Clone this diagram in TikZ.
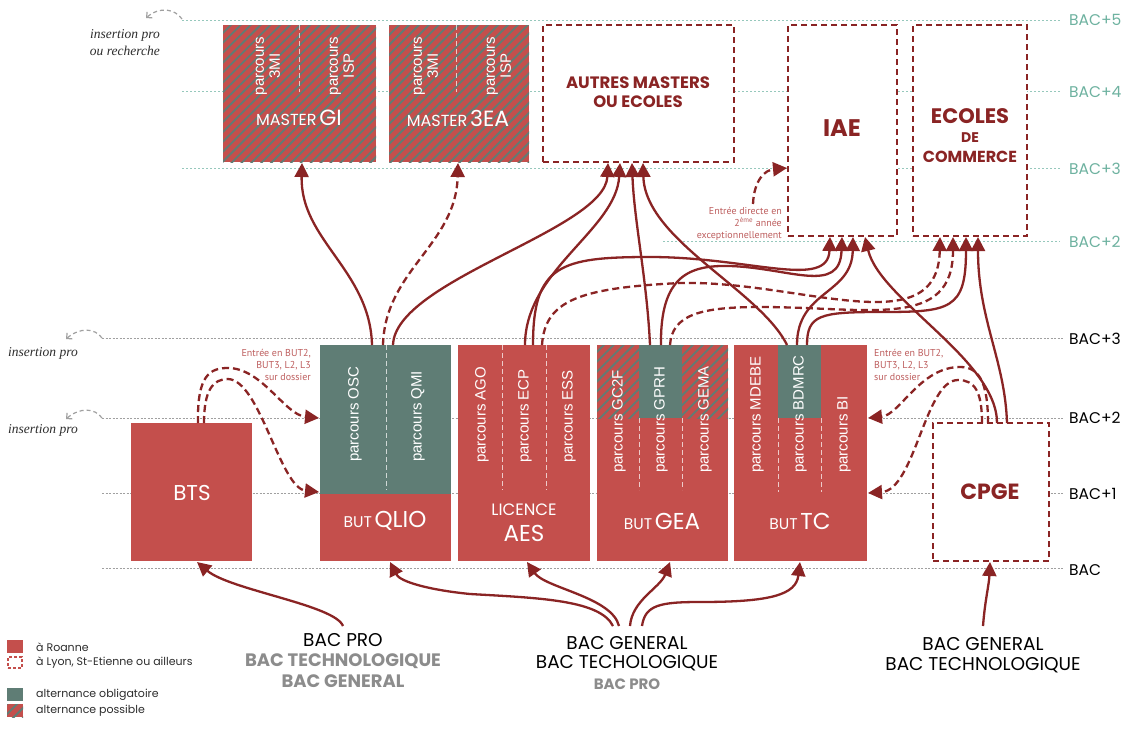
\documentclass[tikz,border=0pt]{standalone}
\usepackage{fontspec}
\newfontfamily\pop{Poppins}
\newfontfamily\lib{Liberation Sans}
\newfontfamily\pts{PT Sans}
\newfontfamily\lser{Liberation Serif}
\usetikzlibrary{arrows.meta,patterns.meta}
\definecolor{boxred}{RGB}{196,79,76}
\definecolor{tealc}{RGB}{95,125,117}
\definecolor{darkred}{RGB}{138,36,36}
\definecolor{tline}{RGB}{150,200,188}
\definecolor{ttxt}{RGB}{110,178,160}
\definecolor{gline}{RGB}{160,160,160}
\definecolor{rosy}{RGB}{190,95,95}
\definecolor{dgray}{RGB}{45,45,45}
\newcommand{\myfs}[1]{\fontsize{#1}{#1}\selectfont}
\tikzset{
 box/.style={draw=none, inner sep=0pt, outer sep=0pt, anchor=north west},
 redbox/.style={box, fill=boxred},
 tealbox/.style={box, fill=tealc},
 hatchbox/.style={box, fill=boxred, postaction={pattern={Lines[angle=45,distance=7pt,line width=1.8pt]}, pattern color=tealc}},
 dashbox/.style={box, fill=white, draw=darkred, line width=1.8pt, dash pattern=on 6pt off 4pt},
 divider/.style={draw=white, opacity=.7, line width=1pt, dash pattern=on 5pt off 3pt},
 upline/.style={draw=tline, line width=1pt, dash pattern=on 2pt off 2pt},
 lowline/.style={draw=gline, line width=1pt, dash pattern=on 2pt off 1.5pt},
 arr/.style={draw=darkred, line width=2.3pt, -{Triangle[length=14pt,width=14pt]}},
 darr/.style={arr, dash pattern=on 7pt off 4pt},
 insarr/.style={draw=gline, line width=1.2pt, dash pattern=on 4pt off 3pt, -{Straight Barb[length=4pt,width=8pt]}},
 parc/.style={font=\lib\myfs{15}, text=white, rotate=90, anchor=west, inner sep=0pt},
 parc2/.style={font=\lib\fontsize{15}{16}\selectfont, text=white, rotate=90, align=center, inner sep=0pt},
 wt/.style={text=white, inner sep=0pt, font=\pop},
 rt/.style={text=darkred, inner sep=0pt, font=\pop\bfseries},
 lvl/.style={font=\pop\myfs{15.5}, anchor=west, inner sep=0pt},
 ins/.style={font=\lser\itshape\fontsize{13.5}{17}\selectfont, text=dgray, inner sep=0pt},
 small/.style={font=\pts\fontsize{10}{12}\selectfont, text=rosy, inner sep=0pt},
 btxt/.style={font=\pop\myfs{18.5}, text=black, inner sep=0pt},
 htxt/.style={font=\pop\bfseries\myfs{18}, text=black!45, inner sep=0pt},
 legt/.style={font=\pop\myfs{11}, text=dgray, anchor=west, inner sep=0pt},
}
\begin{document}
\begin{tikzpicture}[x=1pt,y=-1pt]
\useasboundingbox[fill=white] (0,0) rectangle (1129,731);
% level lines
\draw[upline] (182,20) -- (1060,20);
\draw[upline] (182,91) -- (1060,91);
\draw[upline] (182,168) -- (1060,168);
\draw[upline] (663,241) -- (1060,241);
\draw[lowline] (102,338) -- (1063,338);
\draw[lowline] (102,418) -- (1063,418);
\draw[lowline] (102,493) -- (1063,493);
\draw[lowline] (102,568) -- (1063,568);
\node[lvl, text=ttxt] (l5) at (1069,20) {BAC+5};
\node[lvl, text=ttxt] (l4) at (1069,92) {BAC+4};
\node[lvl, text=ttxt] (l3u) at (1069,169) {BAC+3};
\node[lvl, text=ttxt] (l2u) at (1069,242) {BAC+2};
\node[lvl, text=black] (l3) at (1069,339) {BAC+3};
\node[lvl, text=black] (l2) at (1069,418) {BAC+2};
\node[lvl, text=black] (l1) at (1069,494) {BAC+1};
\node[lvl, text=black] (l0) at (1069,570) {BAC};
% insertion pro
\coordinate (ins0s) at (182,19); \coordinate (ins0e) at (146,18);
\coordinate (ins1s) at (102,338); \coordinate (ins1e) at (66,339);
\coordinate (ins2s) at (102,418); \coordinate (ins2e) at (66,419);
\draw[insarr] (ins0s) .. controls (175,9) and (160,6) .. (ins0e);
\draw[insarr] (ins1s) .. controls (95,328) and (80,327) .. (ins1e);
\draw[insarr] (ins2s) .. controls (95,408) and (80,407) .. (ins2e);
\node[ins, anchor=east, align=right] (ip0) at (160,43) {insertion pro\\ou recherche};
\node[ins, anchor=west] (ip1) at (8,353) {insertion pro};
\node[ins, anchor=west] (ip2) at (8,430) {insertion pro};
% upper boxes
\node[hatchbox, minimum width=153, minimum height=137] (mgi) at (223,25) {};
\node[hatchbox, minimum width=140, minimum height=137] (m3ea) at (389,25) {};
\node[dashbox, minimum width=191, minimum height=137] (autres) at (543,25) {};
\node[dashbox, minimum width=109, minimum height=211] (iae) at (788,25) {};
\node[dashbox, minimum width=114, minimum height=211] (ecoles) at (913,25) {};
\draw[divider] (299,25) -- (299,92);
\draw[divider] (456,25) -- (456,92);
\node[parc2] (p3mi1) at (268,66) {parcours\\3MI};
\node[parc2] (pisp1) at (342,66) {parcours\\ISP};
\node[parc2] (p3mi2) at (426,66) {parcours\\3MI};
\node[parc2] (pisp2) at (499,66) {parcours\\ISP};
\node[wt] (tmgi) at (299,118) {{\myfs{16}MASTER} {\myfs{22}GI}};
\node[wt] (tm3ea) at (458,118) {{\myfs{16}MASTER} {\myfs{22}3EA}};
\node[rt, align=center, font=\pop\bfseries\fontsize{16.5}{19.5}\selectfont] (tautres) at (638,92) {AUTRES MASTERS\\OU ECOLES};
\node[rt, font=\pop\bfseries\myfs{24}] (tiae) at (842,128) {IAE};
\node[rt, font=\pop\bfseries\myfs{21}] (tec1) at (970,116) {ECOLES};
\node[rt, font=\pop\bfseries\myfs{14}] (tec2) at (970,138) {DE};
\node[rt, font=\pop\bfseries\myfs{16}] (tec3) at (970,157) {COMMERCE};
% lower boxes
\node[redbox, minimum width=121, minimum height=138] (bts) at (131,423) {};
\node[tealbox, minimum width=131, minimum height=149] (qliop) at (320,345) {};
\node[redbox, minimum width=131, minimum height=67] (qlio) at (320,494) {};
\node[redbox, minimum width=132, minimum height=216] (aes) at (458,345) {};
\node[redbox, minimum width=131, minimum height=216] (gea) at (597,345) {};
\node[hatchbox, minimum width=42, minimum height=73] (gc2f) at (597,345) {};
\node[tealbox, minimum width=43, minimum height=73] (gprh) at (639,345) {};
\node[hatchbox, minimum width=46, minimum height=73] (gema) at (682,345) {};
\node[redbox, minimum width=133, minimum height=216] (tc) at (734,345) {};
\node[tealbox, minimum width=43, minimum height=73] (bdmrc) at (778,345) {};
\node[dashbox, minimum width=116, minimum height=138] (cpge) at (933,423) {};
\draw[divider] (386,345) -- (386,490);
\draw[divider] (502,345) -- (502,490);
\draw[divider] (546,345) -- (546,490);
\draw[divider] (639,418) -- (639,490);
\draw[divider] (682,418) -- (682,490);
\draw[divider] (778,418) -- (778,492);
\draw[divider] (821,418) -- (821,492);
\node[parc] (posc) at (355,462) {parcours OSC};
\node[parc] (pqmi) at (418,462) {parcours QMI};
\node[parc] (pago) at (482,463) {parcours AGO};
\node[parc] (pecp) at (525,463) {parcours ECP};
\node[parc] (pess) at (569,463) {parcours ESS};
\node[parc] (pgc2f) at (619,473) {parcours GC2F};
\node[parc] (pgprh) at (661,473) {parcours GPRH};
\node[parc] (pgema) at (705,473) {parcours GEMA};
\node[parc] (pmdebe) at (757,473) {parcours MDEBE};
\node[parc] (pbdmrc) at (800,473) {parcours BDMRC};
\node[parc] (pbi) at (844,473) {parcours BI};
\node[wt, font=\pop\myfs{21.5}] (tbts) at (192,493) {BTS};
\node[wt] (tqlio) at (385,521) {{\myfs{15.5}BUT} {\myfs{23}QLIO}};
\node[wt, font=\pop\myfs{16.5}] (taes1) at (524,510) {LICENCE};
\node[wt, font=\pop\myfs{23}] (taes2) at (524,533) {AES};
\node[wt] (tgea) at (662,521) {{\myfs{15.5}BUT} {\myfs{23}GEA}};
\node[wt] (ttc) at (800,521) {{\myfs{15.5}BUT} {\myfs{23}TC}};
\node[rt, font=\pop\bfseries\myfs{22}] (tcpge) at (990,492) {CPGE};
% side labels
\node[small, align=right, anchor=east] (lbl1) at (311,365) {Entrée en BUT2,\\BUT3, L2, L3\\sur dossier};
\node[small, align=left, anchor=west] (lbl2) at (874,365) {Entrée en BUT2,\\BUT3, L2, L3\\sur dossier};
\node[small, align=right, anchor=east] (lbl3) at (782,224) {Entrée directe en\\2\textsuperscript{ème} année\\exceptionnellement};
% ports
\coordinate (mgi-in) at (302,163); \coordinate (m3ea-in) at (458,163);
\coordinate (au1) at (608,163); \coordinate (au2) at (620,163);
\coordinate (au3) at (632,163); \coordinate (au4) at (643,163);
\coordinate (iae1) at (830,237); \coordinate (iae2) at (842,237);
\coordinate (iae3) at (853,237); \coordinate (iae4) at (865,237);
\coordinate (ec1) at (940,237); \coordinate (ec2) at (953,237);
\coordinate (ec3) at (966,237); \coordinate (ec4) at (978,237);
\coordinate (iaew) at (787,168); \coordinate (ed) at (753,204);
\coordinate (q1) at (372,345); \coordinate (q2) at (383,345); \coordinate (q3) at (393,345);
\coordinate (a1) at (525,345); \coordinate (a2) at (533,345); \coordinate (a3) at (542,345);
\coordinate (g1) at (650,345); \coordinate (g2) at (661,345); \coordinate (g3) at (670,345);
\coordinate (t1) at (787,345); \coordinate (t2) at (797,345); \coordinate (t3) at (807,345);
\coordinate (c1) at (982,423); \coordinate (c2) at (988,423);
\coordinate (c3) at (997,423); \coordinate (c4) at (1007,423);
\coordinate (b1) at (198,423); \coordinate (b2) at (204,423);
\coordinate (tce1) at (868,418); \coordinate (tce2) at (868,493);
\coordinate (qlw1) at (319,418); \coordinate (qlw2) at (319,492);
\coordinate (btss) at (197,562); \coordinate (qlios) at (390,562);
\coordinate (aess) at (527,562); \coordinate (geas) at (670,562);
\coordinate (tcs) at (800,562); \coordinate (cpges) at (990,562);
\coordinate (bp) at (343,626); \coordinate (bg1) at (613,626);
\coordinate (bg2) at (619,626); \coordinate (bg3) at (630,626);
\coordinate (bg4) at (642,626); \coordinate (bgr) at (983,626);
% arrows to upper level
\draw[arr] (q1) .. controls (370,270) and (300,240) .. (mgi-in);
\draw[darr] (q2) .. controls (385,270) and (456,245) .. (m3ea-in);
\draw[arr] (q3) .. controls (395,280) and (605,230) .. (au1);
\draw[arr] (a1) .. controls (525,270) and (616,230) .. (au2);
\draw[arr] (g1) .. controls (647,280) and (634,220) .. (au3);
\draw[arr] (t1) .. controls (760,290) and (645,240) .. (au4);
\draw[arr] (a2) .. controls (533,265) and (560,257) .. (650,257) .. controls (750,257) and (828,290) .. (iae1);
\draw[arr] (g2) .. controls (660,275) and (690,265) .. (730,266) .. controls (790,268) and (840,295) .. (iae2);
\draw[arr] (t2) .. controls (797,290) and (852,295) .. (iae3);
\draw[arr] (c3) .. controls (997,360) and (880,300) .. (iae4);
\draw[darr] (a3) .. controls (545,300) and (580,288) .. (680,283) .. controls (800,280) and (938,345) .. (ec1);
\draw[darr] (g3) .. controls (672,315) and (700,307) .. (760,307) .. controls (870,307) and (953,330) .. (ec2);
\draw[arr] (t3) .. controls (807,315) and (820,312) .. (880,312) .. controls (950,312) and (966,310) .. (ec3);
\draw[arr] (c4) .. controls (1005,360) and (978,320) .. (ec4);
\draw[darr] (ed) .. controls (754,180) and (765,170) .. (iaew);
% lateral entries
\draw[darr] (b1) .. controls (197,375) and (210,368) .. (228,368) .. controls (262,368) and (285,415) .. (qlw1);
\draw[darr] (b2) .. controls (204,390) and (213,379) .. (228,379) .. controls (260,380) and (280,488) .. (qlw2);
\draw[darr] (c2) .. controls (988,380) and (978,367) .. (960,367) .. controls (920,367) and (900,415) .. (tce1);
\draw[darr] (c1) .. controls (982,392) and (975,380) .. (958,380) .. controls (925,380) and (915,490) .. (tce2);
% from bac
\draw[arr] (bp) .. controls (335,605) and (230,590) .. (btss);
\draw[arr] (bg1) .. controls (600,600) and (540,598) .. (470,594) .. controls (430,590) and (400,582) .. (qlios);
\draw[arr] (bg2) .. controls (612,597) and (545,588) .. (aess);
\draw[arr] (bg3) .. controls (632,600) and (660,588) .. (geas);
\draw[arr] (bg4) .. controls (645,605) and (660,602) .. (700,602) .. controls (770,602) and (796,595) .. (tcs);
\draw[arr] (bgr) .. controls (985,600) and (989,585) .. (cpges);
% bac labels
\node[btxt] (bp1) at (343,640) {BAC PRO};
\node[htxt] (bp2) at (343,661) {BAC TECHNOLOGIQUE};
\node[htxt] (bp3) at (343,681) {BAC GENERAL};
\node[btxt] (bgt1) at (627,643) {BAC GENERAL};
\node[btxt] (bgt2) at (627,663) {BAC TECHOLOGIQUE};
\node[htxt, font=\pop\bfseries\myfs{15}] (bgt3) at (627,684) {BAC PRO};
\node[btxt] (br1) at (983,644) {BAC GENERAL};
\node[btxt] (br2) at (983,665) {BAC TECHNOLOGIQUE};
% legend
\node[redbox, minimum width=16, minimum height=13] (lg1) at (7,640) {};
\node[box, draw=boxred, line width=1.3pt, dash pattern=on 3pt off 2pt, minimum width=14, minimum height=11] (lg2) at (8,657) {};
\node[tealbox, minimum width=16, minimum height=13] (lg3) at (7,688) {};
\node[hatchbox, minimum width=16, minimum height=13] (lg4) at (7,704) {};
\node[legt] (lt1) at (36,647) {à Roanne};
\node[legt] (lt2) at (36,663) {à Lyon, St-Etienne ou ailleurs};
\node[legt] (lt3) at (36,695) {alternance obligatoire};
\node[legt] (lt4) at (36,711) {alternance possible};
\end{tikzpicture}
\end{document}
